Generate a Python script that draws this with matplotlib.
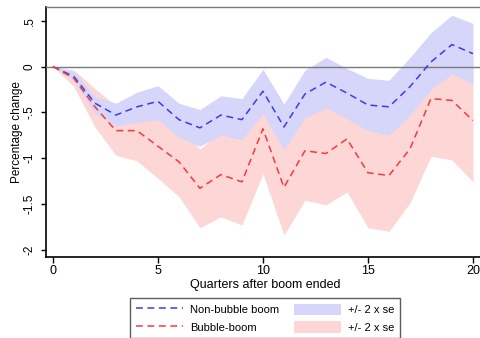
import matplotlib
matplotlib.use('Agg')
import matplotlib.pyplot as plt
from matplotlib.lines import Line2D
from matplotlib.patches import Patch

plt.rcParams['font.family'] = ['Liberation Sans Narrow', 'Liberation Sans', 'DejaVu Sans']

#--quarters after boom ended
quarters = list(range(21))

#--non-bubble boom: mean and +/- 2 se band
nb_mean = [0, -0.11, -0.40, -0.53, -0.44, -0.38, -0.58, -0.67, -0.53, -0.58, -0.27,
           -0.66, -0.30, -0.17, -0.29, -0.42, -0.44, -0.22, 0.05, 0.24, 0.14]
nb_hi = [0, -0.05, -0.33, -0.40, -0.28, -0.21, -0.40, -0.47, -0.32, -0.35, -0.03,
         -0.41, -0.04, 0.10, -0.02, -0.13, -0.15, 0.10, 0.37, 0.56, 0.47]
nb_lo = [0, -0.15, -0.51, -0.65, -0.61, -0.58, -0.77, -0.87, -0.75, -0.80, -0.51,
         -0.91, -0.56, -0.45, -0.57, -0.70, -0.75, -0.53, -0.25, -0.08, -0.19]

#--bubble boom: mean and +/- 2 se band
b_mean = [0, -0.13, -0.44, -0.70, -0.70, -0.87, -1.04, -1.33, -1.18, -1.26, -0.68,
          -1.32, -0.92, -0.95, -0.79, -1.16, -1.19, -0.90, -0.35, -0.37, -0.59]
b_hi = [0, -0.04, -0.24, -0.43, -0.37, -0.52, -0.66, -0.90, -0.72, -0.79, -0.19,
        -0.80, -0.38, -0.39, -0.21, -0.56, -0.58, -0.31, 0.28, 0.28, 0.08]
b_lo = [0, -0.22, -0.66, -0.97, -1.03, -1.22, -1.42, -1.76, -1.64, -1.73, -1.17,
        -1.84, -1.46, -1.51, -1.37, -1.76, -1.80, -1.49, -0.98, -1.02, -1.26]

yticks = [-2, -1.5, -1, -0.5, 0, 0.5]
ytick_labels = ['-2', '-1.5', '-1', '-.5', '0', '.5']
xticks = [0, 5, 10, 15, 20]

red_band = '#fdd6d6'
blue_band = '#d6d6fa'
red_line = '#f53a3a'
blue_line = '#3a3af0'
dash = (0, (4.5, 3))

fig = plt.figure(figsize=(4.81, 3.38), dpi=100)
ax = fig.add_axes([0.0956, 0.2396, 0.91, 0.7397])

ax.axhline(0, color='#7a7a7a', lw=1.0, zorder=3)
ax.fill_between(quarters, b_lo, b_hi, color=red_band, lw=0, zorder=1)
ax.fill_between(quarters, nb_lo, nb_hi, color=blue_band, lw=0, zorder=2)
ax.plot(quarters, nb_mean, color=blue_line, ls=dash, lw=1.1, zorder=4)
ax.plot(quarters, b_mean, color=red_line, ls=dash, lw=1.1, zorder=4)

ax.set_xlim(-0.33, 20.51)
ax.set_ylim(-2.08, 0.65)
ax.set_xticks(xticks)
ax.set_yticks(yticks)
ax.set_yticklabels(ytick_labels, rotation=90, va='center')
ax.tick_params(axis='x', direction='out', length=4, width=1, labelsize=9, pad=2)
ax.tick_params(axis='y', direction='out', length=3.6, width=1, labelsize=8.5, pad=4)
ax.set_xlabel('Quarters after boom ended', fontsize=9, labelpad=1)
ax.set_ylabel('Percentage change', fontsize=8.5)
ax.yaxis.set_label_coords(-0.0525, 0.5)

ax.spines['left'].set_linewidth(1.2)
ax.spines['bottom'].set_linewidth(1.2)
ax.spines['top'].set_color('#7a7a7a')
ax.spines['top'].set_linewidth(1.0)
ax.spines['right'].set_visible(False)

handles = [Line2D([], [], color=blue_line, ls=dash, lw=1.1),
           Line2D([], [], color=red_line, ls=dash, lw=1.1),
           Patch(facecolor=blue_band, edgecolor='none'),
           Patch(facecolor=red_band, edgecolor='none')]
labels = ['Non-bubble boom', 'Bubble-boom', '+/- 2 x se', '+/- 2 x se']
leg = fig.legend(handles, labels, ncol=2, loc='upper left',
                 bbox_to_anchor=(130 / 481, 1 - 298 / 338), bbox_transform=fig.transFigure,
                 fontsize=8, frameon=True, fancybox=False, handlelength=4.3,
                 handleheight=1.2, handletextpad=0.6, columnspacing=1.3,
                 labelspacing=0.55, borderpad=0.5, borderaxespad=0)
leg.get_frame().set_edgecolor('#333333')
leg.get_frame().set_linewidth(1.0)

fig.savefig('out.png', dpi=100)
